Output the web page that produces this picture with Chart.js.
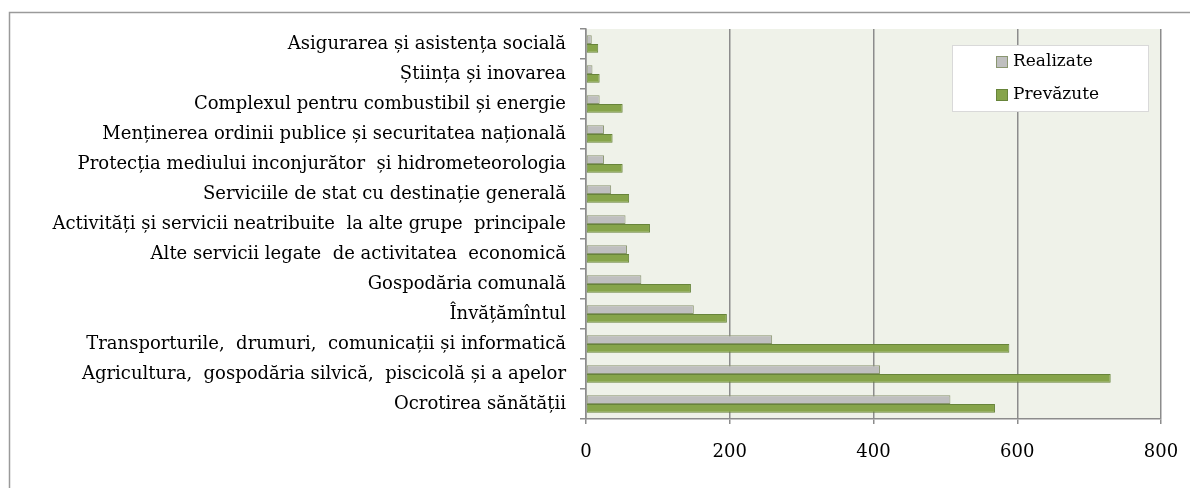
<!DOCTYPE html>
<html>
<head>
<meta charset="utf-8">
<script src="https://cdn.jsdelivr.net/npm/chart.js@4.4.0/dist/chart.umd.min.js"></script>
<style>
    body { margin: 0; background: #fff; }
    #wrap { width: 1190px; height: 488px; }
</style>
</head>
<body>
<div id="wrap"><canvas id="chart1" width="1190" height="488"></canvas></div>
<script>
const categories = [
    "Asigurarea și asistența socială",
    "Știința și inovarea",
    "Complexul pentru combustibil și energie",
    "Menținerea ordinii publice și securitatea națională",
    "Protecția mediului inconjurător  și hidrometeorologia",
    "Serviciile de stat cu destinație generală",
    "Activități și servicii neatribuite  la alte grupe  principale",
    "Alte servicii legate  de activitatea  economică",
    "Gospodăria comunală",
    "Învățămîntul",
    "Transporturile,  drumuri,  comunicații și informatică",
    "Agricultura,  gospodăria silvică,  piscicolă și a apelor",
    "Ocrotirea sănătății"
];
const realizate = [8, 9, 19, 25, 25, 35, 55, 57, 77, 150, 259, 409, 507];
const prevazute = [17, 19, 51, 37, 51, 60, 89, 60, 146, 196, 589, 730, 569];
const xTicks = [0, 200, 400, 600, 800];

const serif = "'DejaVu Serif', serif";

// plot background + outer frame
const backdrop = {
    id: "backdrop",
    beforeDraw(chart) {
        let ctx = chart.ctx;
        let a = chart.chartArea;
        ctx.save();
        ctx.fillStyle = "#eff2e9";
        ctx.fillRect(a.left, a.top, a.right - a.left, a.bottom - a.top);
        ctx.strokeStyle = "#9a9a9a";
        ctx.lineWidth = 1.5;
        ctx.beginPath();
        ctx.moveTo(9.5, 488);
        ctx.lineTo(9.5, 12.5);
        ctx.lineTo(1190, 12.5);
        ctx.stroke();
        ctx.restore();
    }
};

// legend box inside the plot, top right
const boxLegend = {
    id: "boxLegend",
    afterDraw(chart) {
        let ctx = chart.ctx;
        ctx.save();
        ctx.fillStyle = "#ffffff";
        ctx.fillRect(952, 45, 196, 66);
        ctx.strokeStyle = "#d9d9d9";
        ctx.lineWidth = 1;
        ctx.strokeRect(952.5, 45.5, 196, 66);
        ctx.font = "17px " + serif;
        ctx.textBaseline = "middle";
        chart.data.datasets.forEach(function(ds, i) {
            let y = 62 + i * 33;
            ctx.fillStyle = ds.backgroundColor;
            ctx.fillRect(996, y - 6, 12, 12);
            ctx.strokeStyle = ds.borderColor;
            ctx.strokeRect(996.5, y - 5.5, 11, 11);
            ctx.fillStyle = "#000";
            ctx.fillText(ds.label, 1013, y);
        });
        ctx.restore();
    }
};

new Chart(document.getElementById("chart1"), {
    type: "bar",
    data: {
        labels: categories,
        datasets: [{
            label: "Realizate",
            data: realizate,
            backgroundColor: "#bfbfbf",
            borderColor: "#8a9670",
            borderWidth: 1,
            borderSkipped: false,
            categoryPercentage: 0.58,
            barPercentage: 1.0
        }, {
            label: "Prevăzute",
            data: prevazute,
            backgroundColor: "#86a44a",
            borderColor: "#67843a",
            borderWidth: 1,
            borderSkipped: false,
            categoryPercentage: 0.58,
            barPercentage: 1.0
        }]
    },
    options: {
        indexAxis: "y",
        responsive: false,
        animation: false,
        layout: {
            padding: { left: 10, top: 29, right: 29, bottom: 0 }
        },
        plugins: {
            legend: { display: false },
            tooltip: { enabled: false }
        },
        scales: {
            x: {
                min: 0,
                max: 800,
                afterBuildTicks: function(axis) {
                    axis.ticks = xTicks.map(v => ({ value: v }));
                },
                afterFit: function(axis) {
                    axis.height = 69;
                    axis.paddingLeft = 0;
                    axis.paddingRight = 0;
                },
                ticks: {
                    color: "#000",
                    font: { family: serif, size: 18 },
                    padding: 18
                },
                grid: {
                    color: "#8c8c8c",
                    lineWidth: 1.5,
                    tickLength: 5
                },
                border: { color: "#8c8c8c", width: 1.5 }
            },
            y: {
                afterFit: function(axis) { axis.width = 576; },
                ticks: {
                    color: "#000",
                    font: { family: serif, size: 18 },
                    padding: 14,
                    autoSkip: false
                },
                grid: {
                    drawOnChartArea: false,
                    color: "#8c8c8c",
                    lineWidth: 1.5,
                    tickLength: 6
                },
                border: { color: "#8c8c8c", width: 1.5 }
            }
        }
    },
    plugins: [backdrop, boxLegend]
});
</script>
</body>
</html>
